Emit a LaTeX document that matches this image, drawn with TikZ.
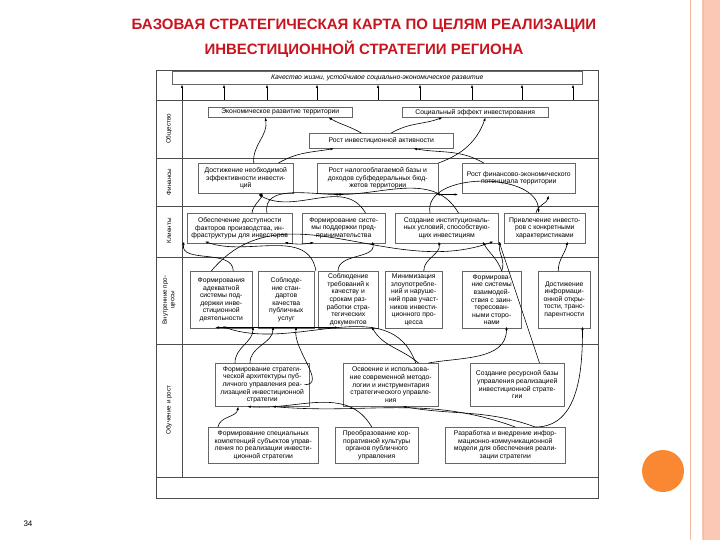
\documentclass[tikz,border=0pt]{standalone}
\usepackage{fontspec}
\setmainfont{Liberation Sans}
\usetikzlibrary{arrows.meta}
\definecolor{titlered}{RGB}{200,20,30}
\definecolor{salmon}{RGB}{250,200,180}
\definecolor{salmonline}{RGB}{245,185,160}
\definecolor{dot}{RGB}{250,135,50}
\begin{document}
\begin{tikzpicture}[x=1pt,y=-1pt,
  bx/.style={draw=black!60,line width=0.5pt,font=\fontsize{6.8}{7.6}\selectfont,align=center,inner sep=0.5pt,anchor=north west},
  arr/.style={-{Latex[length=3.5pt,width=2.5pt]},line width=0.6pt},
  dbl/.style={{Latex[length=3.5pt,width=2.5pt]}-{Latex[length=3.5pt,width=2.5pt]},line width=0.6pt},
  lab/.style={rotate=90,font=\fontsize{6.3}{7.5}\selectfont,align=center},
  fr/.style={draw=black!70,line width=0.6pt}]
\useasboundingbox (0,0) rectangle (720,540);
% slide decoration
\fill[salmon] (702,0) rectangle (720,540);
\draw[salmonline,line width=1pt] (690,0) -- (690,540);
\draw[salmonline,line width=0.8pt] (703,0) -- (703,540);
\fill[dot] (663,471) circle (21);
\node[font=\bfseries\fontsize{15}{25}\selectfont,text=titlered,align=center] (title) at (364,38)
 {БАЗОВАЯ СТРАТЕГИЧЕСКАЯ КАРТА ПО ЦЕЛЯМ РЕАЛИЗАЦИИ\\ИНВЕСТИЦИОННОЙ СТРАТЕГИИ РЕГИОНА};
\node[font=\rmfamily\fontsize{8}{9}\selectfont] (pg) at (28,524) {34};
% frame
\draw[fr] (156,70) rectangle (598,498);
\foreach \y in {100,158,206,257,344,477} \draw[fr] (156,\y) -- (598,\y);
\draw[fr] (182,100) -- (182,477);
\node[lab] (l1) at (169,129) {Общество};
\node[lab] (l2) at (169,182) {Финансы};
\node[lab] (l3) at (169,231) {Клиенты};
\node[lab] (l4) at (169,300) {Внутренние про-\\цессы};
\node[lab] (l5) at (169,410) {Обучение и рост};
% top
\node[bx,minimum width=410,minimum height=13] (top) at (172,71) {\itshape Качество жизни, устойчивое социально-экономическое развитие};
\foreach \x in {182,224,267,317,378,420,472,522,573} \draw[arr] (\x,100) -- (top.south -| \x,0);
% society
\node[bx,minimum width=144,minimum height=10] (soc1) at (208,107) {Экономическое развитие территории};
\node[bx,minimum width=146,minimum height=10] (soc2) at (402,107) {Социальный эффект инвестирования};
\node[bx,minimum width=144,minimum height=15] (inv) at (309,133) {Рост инвестиционной активности};
% finance
\node[bx,minimum width=95,minimum height=30] (fin1) at (198,163) {Достижение необходимой\\эффективности инвести-\\ций};
\node[bx,minimum width=121,minimum height=30] (fin2) at (317,163) {Рост налогооблагаемой базы и\\доходов субфедеральных бюд-\\жетов территории};
\node[bx,minimum width=113,minimum height=30] (fin3) at (462,163) {Рост финансово-экономического\\потенциала территории};
% clients
\node[bx,minimum width=105,minimum height=30] (cli1) at (187,213) {Обеспечение доступности\\факторов производства, ин-\\фраструктуры для инвесторов};
\node[bx,minimum width=83,minimum height=30] (cli2) at (302,213) {Формирование систе-\\мы поддержки пред-\\принимательства};
\node[bx,minimum width=103,minimum height=30] (cli3) at (395,213) {Создание институциональ-\\ных условий, способствую-\\щих инвестициям};
\node[bx,minimum width=81,minimum height=30] (cli4) at (504,213) {Привлечение инвесто-\\ров с конкретными\\характеристиками};
% internal
\node[bx,minimum width=62,minimum height=57] (int1) at (190,271) {Формирования\\адекватной\\системы под-\\держки инве-\\стиционной\\деятельности};
\node[bx,minimum width=56,minimum height=57] (int2) at (258,271) {Соблюде-\\ние стан-\\дартов\\качества\\публичных\\услуг};
\node[bx,minimum width=60,minimum height=57] (int3) at (318,271) {Соблюдение\\требований к\\качеству и\\срокам раз-\\работки стра-\\тегических\\документов};
\node[bx,minimum width=57,minimum height=57] (int4) at (385,271) {Минимизация\\злоупотребле-\\ний и наруше-\\ний прав участ-\\ников инвести-\\ционного про-\\цесса};
\node[bx,minimum width=59,minimum height=57] (int5) at (462,271) {Формирова-\\ние системы\\взаимодей-\\ствия с заин-\\тересован-\\ными сторо-\\нами};
\node[bx,minimum width=52,minimum height=57] (int6) at (538,271) {Достижение\\информаци-\\онной откры-\\тости, транс-\\парентности};
% learning
\node[bx,minimum width=94,minimum height=43] (lrn1) at (215,363) {Формирование стратеги-\\ческой архитектуры пуб-\\личного управления реа-\\лизацией инвестиционной\\стратегии};
\node[bx,minimum width=95,minimum height=43] (lrn2) at (343,363) {Освоение и использова-\\ние современной методо-\\логии и инструментария\\стратегического управле-\\ния};
\node[bx,minimum width=94,minimum height=43] (lrn3) at (470,363) {Создание ресурсной базы\\управления реализацией\\инвестиционной страте-\\гии};
\node[bx,minimum width=110,minimum height=36] (dev1) at (208,427) {Формирование специальных\\компетенций субъектов управ-\\ления по реализации инвести-\\ционной стратегии};
\node[bx,minimum width=83,minimum height=36] (dev2) at (335,427) {Преобразование кор-\\поративной культуры\\органов публичного\\управления};
\node[bx,minimum width=120,minimum height=36] (dev3) at (445,427) {Разработка и внедрение инфор-\\мационно-коммуникационной\\модели для обеспечения реали-\\зации стратегии};
% society level links
\draw[arr] ([xshift=8]fin1.north) to[out=95,in=-80] ([xshift=-15]soc1.south);
\draw[arr] ([xshift=-20]inv.north) to[out=150,in=-30] ([xshift=-24]soc1.south east);
\draw[arr] ([xshift=10]inv.north) to[out=30,in=200] ([xshift=-106]soc2.south east);
\draw[arr] ([xshift=-15]fin1.north east) to[out=30,in=190] ([xshift=25]inv.south west);
\draw[arr] ([xshift=-35]fin3.north) to[out=150,in=-10] ([xshift=-40]inv.south east);
\draw[arr] (fin2.north east) to[out=20,in=-110] ([xshift=-63]soc2.south east);
% finance links
\draw[dbl] ([xshift=-2,yshift=-1]fin2.south east) -- ([xshift=-4,yshift=-1]fin3.south west);
\draw[arr] ([xshift=65]cli1.north west) to[out=90,in=0] ([xshift=-35,yshift=-1]fin1.south east);
\draw[arr] ([xshift=80]cli1.north west) to[out=100,in=180] ([xshift=23,yshift=-1]fin2.south west);
\draw[arr] ([xshift=-20]cli2.north east) to[out=120,in=-30] ([xshift=-35,yshift=-1]fin1.south east);
\draw[arr] ([xshift=35]cli3.north west) to[out=100,in=90] ([xshift=40]cli3.north east) ;
\draw[arr] ([xshift=-40]cli3.north east) to[out=120,in=0] ([xshift=20,yshift=-1]fin2.south west);
\draw[arr] ([xshift=32]cli4.north west) to[out=80,in=-100] ([xshift=-27,yshift=-2]fin3.south east);
% client level links
\draw[dbl] ([xshift=-8,yshift=1]cli1.south east) to[out=-10,in=190] ([xshift=12,yshift=1]cli2.south west);
\draw[arr] ([xshift=12]int1.north) to[out=90,in=-100] ([xshift=-3,yshift=2]cli1.south west);
\draw[arr] ([xshift=-10]int1.north) to[out=50,in=200] ([xshift=-5,yshift=2]cli3.south east);
\draw[arr] ([xshift=-2]int3.north west) to[out=100,in=-20] ([xshift=18,yshift=2]cli1.south west);
\draw[arr] ([xshift=20]int3.north west) to[out=90,in=-80] ([xshift=-13,yshift=2]cli2.south east);
\draw[arr] ([xshift=10]int4.north) to[out=90,in=-80] ([xshift=-8,yshift=2]cli3.south);
\draw[arr] ([xshift=10]int5.north) to[out=110,in=-60] ([xshift=-16,yshift=2]cli3.south east);
\draw[arr] ([xshift=10]int5.north) to[out=70,in=-100] ([xshift=-4,yshift=2]cli4.south west);
\draw[arr] ([xshift=-6]int6.north) to[out=90,in=-100] ([xshift=-18,yshift=2]cli4.south east);
% learning to internal
\draw[dbl] ([xshift=-6,yshift=1]int1.south) -- ([xshift=-10,yshift=1]int3.south);
\draw[arr] ([xshift=20]lrn1.north west) to[out=90,in=-90] ([xshift=-5,yshift=2]int2.south west);
\draw[arr] ([xshift=35]lrn1.north west) to[out=90,in=-90] ([xshift=15,yshift=2]int2.south west);
\draw[arr] ([xshift=-5]lrn1.south east |- lrn1.east) to[out=0,in=-100] ([xshift=-18,yshift=2]int2.south east);
\draw[arr] ([xshift=-20]lrn2.north east) to[out=140,in=-60] ([xshift=-7,yshift=2]int3.south east);
\draw[arr] ([xshift=25]lrn2.north) to[out=110,in=-20] ([xshift=-30,yshift=2]int1.south east);
\draw[arr] ([xshift=-10]lrn2.north east) to[out=10,in=-90] ([xshift=-15,yshift=2]int5.south east);
\draw[arr] ([xshift=-25]lrn3.north east) -- ([xshift=-5,yshift=2]cli4.south west |- cli4.south);
\draw[arr] ([xshift=-30]dev3.north east) to[out=0,in=-90] ([xshift=-8,yshift=2]int6.south east);
% development links
\draw[arr] ([xshift=10]dev1.north west) to[out=80,in=-100] ([xshift=-24]lrn1.south);
\draw[arr] ([xshift=-5]dev2.north) to[out=120,in=-5] ([xshift=-15]lrn1.south);
\draw[arr] ([xshift=10]dev3.north) to[out=160,in=-5] ([xshift=10]lrn1.south);
\draw[arr] ([xshift=30]dev3.north) to[out=160,in=-10] ([xshift=12]lrn2.south);
\end{tikzpicture}
\end{document}
